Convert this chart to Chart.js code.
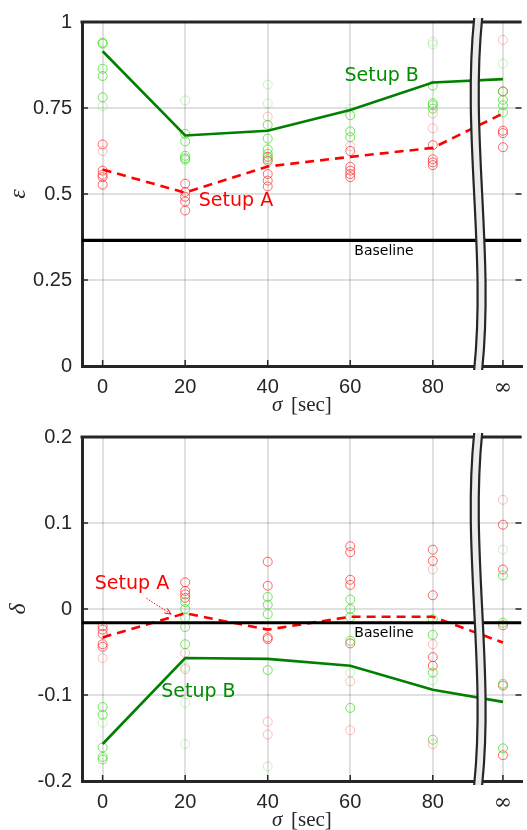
<!DOCTYPE html>
<html>
<head>
<meta charset="utf-8">
<script src="https://cdn.jsdelivr.net/npm/chart.js@4.4.0/dist/chart.umd.min.js"></script>
<style>
  html, body { margin: 0; padding: 0; background: #fff; }
  .panel { position: absolute; left: 0; width: 527px; height: 415px; }
</style>
</head>
<body>
<div class="panel" style="top:0"><canvas id="epsChart" width="527" height="415"></canvas></div>
<div class="panel" style="top:415px"><canvas id="deltaChart" width="527" height="415"></canvas></div>
<script>
// sigma categories (the last one is "infinity", placed after the axis break)
var sigmaPos = [0, 20, 40, 60, 80, 97];
var sigmaLabels = ["0", "20", "40", "60", "80", "∞"];
var breakAt = 91;

// --- epsilon panel ---
var epsSetupA = [0.571, 0.504, 0.580, 0.608, 0.634, 0.734];
var epsSetupB = [0.915, 0.670, 0.684, 0.744, 0.824, 0.834];
var epsBaseline = 0.365;
var epsTicks = [0, 0.25, 0.5, 0.75, 1];
// individual runs, one list per sigma category
var epsGreen = [[0.940, 0.937, 0.864, 0.843, 0.781], [0.675, 0.653, 0.611, 0.604, 0.600], [0.701, 0.661, 0.630, 0.617, 0.601], [0.729, 0.682, 0.665], [0.815, 0.764, 0.758, 0.748], [0.798, 0.774, 0.758, 0.737]];
var epsGreenFaint = [[0.755], [0.772], [0.818, 0.763], [0.748], [0.943, 0.935], [0.879]];
var epsRed = [[0.644, 0.568, 0.556, 0.549, 0.527], [0.530, 0.506, 0.492, 0.478, 0.452], [0.608, 0.596, 0.558, 0.539, 0.522], [0.625, 0.579, 0.568, 0.558, 0.549], [0.642, 0.601, 0.592, 0.584], [0.798, 0.684, 0.677, 0.636]];
var epsRedFaint = [[0.625], [], [0.725], [0.639], [0.734, 0.691], [0.948]];

// --- delta panel ---
var deltaSetupA = [-0.033, -0.005, -0.024, -0.009, -0.009, -0.039];
var deltaSetupB = [-0.157, -0.057, -0.058, -0.066, -0.094, -0.108];
var deltaBaseline = -0.016;
var deltaTicks = [-0.2, -0.1, 0, 0.1, 0.2];
var deltaGreen = [[-0.114, -0.123, -0.161, -0.172, -0.175], [0.008, 0.0, -0.010, -0.021, -0.041], [0.014, 0.005, -0.006, -0.071], [0.011, 0.0, -0.0095, -0.037, -0.115], [-0.012, -0.030, -0.074, -0.152], [0.039, -0.016, -0.087, -0.162]];
var deltaGreenFaint = [[-0.132], [-0.068, -0.109, -0.157], [-0.183], [-0.074], [-0.083], [0.069]];
var deltaRed = [[-0.020, -0.024, -0.029, -0.041, -0.044], [0.031, 0.021, 0.017, 0.013], [0.055, 0.027, -0.033, -0.035], [0.073, 0.066, 0.034, 0.028, -0.040], [0.069, 0.056, 0.016, -0.056, -0.066], [0.098, 0.046, -0.019, -0.089, -0.170]];
var deltaRedFaint = [[-0.057], [-0.051, -0.070], [-0.131, -0.146], [-0.084, -0.141], [0.046, -0.041, -0.157], [0.127]];

var X_MIN = -5, X_MAX = 101.5;
var INK = "#262626";

function toPoints(groups) {
  var pts = [];
  groups.forEach(function (vals, i) {
    vals.forEach(function (v) { pts.push({ x: sigmaPos[i], y: v }); });
  });
  return pts;
}
function toLine(vals) {
  return vals.map(function (v, i) { return { x: sigmaPos[i], y: v }; });
}
function scatterSet(groups, color) {
  return { type: "scatter", data: toPoints(groups), pointStyle: "circle", pointRadius: 4.5,
    borderColor: color, backgroundColor: "rgba(0,0,0,0)", pointBorderWidth: 1, showLine: false };
}

// frame, inward ticks, axis break, x label and text notes
var decor = {
  id: "decor",
  afterDraw: function (chart) {
    var c = chart.ctx, a = chart.chartArea, xs = chart.scales.x, ys = chart.scales.y;
    var o = chart.options.plugins.decor;
    c.save();
    c.strokeStyle = INK;
    c.lineWidth = 3;
    c.beginPath(); c.moveTo(a.left - 1.5, a.top); c.lineTo(a.right, a.top); c.stroke();
    c.lineWidth = 1.5;
    ys.ticks.forEach(function (t) {
      var y = ys.getPixelForValue(t.value);
      c.beginPath(); c.moveTo(a.left, y); c.lineTo(a.left + 6, y); c.stroke();
      c.beginPath(); c.moveTo(a.right - 6, y); c.lineTo(a.right, y); c.stroke();
    });
    xs.ticks.forEach(function (t) {
      var x = xs.getPixelForValue(t.value);
      c.beginPath(); c.moveTo(x, a.bottom); c.lineTo(x, a.bottom - 6); c.stroke();
    });

    // broken-axis marker
    var xb = xs.getPixelForValue(breakAt), top = a.top - 4, bot = a.bottom + 4, h = bot - top, amp = 12;
    function sPath(x0) {
      c.moveTo(x0, top);
      c.bezierCurveTo(x0 - amp, top + h / 3, x0 + amp, top + 2 * h / 3, x0, bot);
    }
    c.beginPath();
    sPath(xb - 4);
    c.lineTo(xb + 4, bot);
    c.bezierCurveTo(xb + 4 + amp, top + 2 * h / 3, xb + 4 - amp, top + h / 3, xb + 4, top);
    c.closePath();
    c.fillStyle = "#ececec"; c.fill();
    c.lineWidth = 2.2; c.strokeStyle = INK;
    c.beginPath(); sPath(xb - 4); c.stroke();
    c.beginPath(); sPath(xb + 4); c.stroke();

    // x axis label: sigma [sec]
    c.fillStyle = INK;
    c.textBaseline = "middle";
    c.textAlign = "left";
    var ly = a.bottom + 39;
    c.font = "italic 21px 'Liberation Serif'";
    c.fillText("σ", 272, ly);
    c.font = "21px 'Liberation Serif'";
    c.fillText("[sec]", 291, ly);

    // notes
    o.notes.forEach(function (n) {
      c.font = n.size + "px 'DejaVu Sans'";
      c.fillStyle = n.color;
      c.fillText(n.text, xs.getPixelForValue(n.x), ys.getPixelForValue(n.y));
    });
    if (o.arrow) {
      var p0x = xs.getPixelForValue(o.arrow[0]), p0y = ys.getPixelForValue(o.arrow[1]);
      var p1x = xs.getPixelForValue(o.arrow[2]), p1y = ys.getPixelForValue(o.arrow[3]);
      c.strokeStyle = "#ff0000"; c.lineWidth = 1;
      c.setLineDash([1.5, 1.5]);
      c.beginPath(); c.moveTo(p0x, p0y); c.lineTo(p1x, p1y); c.stroke();
      c.setLineDash([]);
      var ang = Math.atan2(p1y - p0y, p1x - p0x);
      c.beginPath();
      c.moveTo(p1x - 7 * Math.cos(ang - 0.4), p1y - 7 * Math.sin(ang - 0.4));
      c.lineTo(p1x, p1y);
      c.lineTo(p1x - 7 * Math.cos(ang + 0.4), p1y - 7 * Math.sin(ang + 0.4));
      c.stroke();
    }
    c.restore();
  }
};

function makeChart(id, cfg) {
  var datasets = [
    { type: "line", data: [{ x: X_MIN, y: cfg.baseline }, { x: X_MAX, y: cfg.baseline }], borderColor: "#000", borderWidth: 3.2, pointRadius: 0 },
    { type: "line", data: toLine(cfg.setupB), borderColor: "#008000", borderWidth: 2.6, pointRadius: 0 },
    { type: "line", data: toLine(cfg.setupA), borderColor: "#ff0000", borderWidth: 2.6, borderDash: [9, 6], pointRadius: 0 },
    scatterSet(cfg.green, "rgba(60,225,30,0.75)"),
    scatterSet(cfg.red, "rgba(255,40,40,0.7)"),
    scatterSet(cfg.greenFaint, "rgba(60,225,30,0.3)"),
    scatterSet(cfg.redFaint, "rgba(255,40,40,0.3)")
  ];
  return new Chart(document.getElementById(id).getContext("2d"), {
    type: "scatter",
    data: { datasets: datasets },
    plugins: [decor],
    options: {
      responsive: false,
      animation: false,
      layout: { padding: { top: cfg.padTop, right: 1, left: 0, bottom: 0 } },
      plugins: {
        legend: { display: false },
        tooltip: { enabled: false },
        decor: { notes: cfg.notes, arrow: cfg.arrow }
      },
      scales: {
        x: {
          type: "linear", min: X_MIN, max: X_MAX,
          afterBuildTicks: function (s) { s.ticks = sigmaPos.map(function (v) { return { value: v }; }); },
          afterFit: function (s) { s.height = 49; },
          ticks: {
            padding: 9, color: INK,
            font: function (ctx) {
              return ctx.index === 5 ? { family: "'DejaVu Serif'", size: 22 } : { family: "'Liberation Sans'", size: 20 };
            },
            callback: function (v, i) { return sigmaLabels[i]; }
          },
          grid: { color: "rgba(0,0,0,0.12)", lineWidth: 2, drawTicks: false },
          border: { color: INK, width: 3 }
        },
        y: {
          min: cfg.ticks[0], max: cfg.ticks[cfg.ticks.length - 1],
          afterBuildTicks: function (s) { s.ticks = cfg.ticks.map(function (v) { return { value: v }; }); },
          afterFit: function (s) { s.width = 82; },
          ticks: {
            padding: 10, color: INK,
            font: { family: "'Liberation Sans'", size: 20 },
            callback: function (v) { return String(+v.toFixed(2)); }
          },
          title: {
            display: true, text: cfg.yTitle, color: INK,
            font: { family: "'Liberation Serif'", style: "italic", size: 24 },
            padding: { top: 4, bottom: 0 }
          },
          grid: { color: "rgba(0,0,0,0.12)", lineWidth: 2, drawTicks: false },
          border: { color: INK, width: 3 }
        }
      }
    }
  });
}

makeChart("epsChart", {
  padTop: 15, baseline: epsBaseline, setupA: epsSetupA, setupB: epsSetupB, ticks: epsTicks, yTitle: "ε",
  green: epsGreen, greenFaint: epsGreenFaint, red: epsRed, redFaint: epsRedFaint,
  notes: [
    { text: "Setup B", x: 58.6, y: 0.843, color: "#008c00", size: 19 },
    { text: "Setup A", x: 23.3, y: 0.479, color: "#ff0000", size: 19 },
    { text: "Baseline", x: 61, y: 0.333, color: "#000", size: 14 }
  ]
});

makeChart("deltaChart", {
  padTop: 20, baseline: deltaBaseline, setupA: deltaSetupA, setupB: deltaSetupB, ticks: deltaTicks, yTitle: "δ",
  green: deltaGreen, greenFaint: deltaGreenFaint, red: deltaRed, redFaint: deltaRedFaint,
  notes: [
    { text: "Setup A", x: -1.9, y: 0.0287, color: "#ff0000", size: 19 },
    { text: "Setup B", x: 14.2, y: -0.097, color: "#008c00", size: 19 },
    { text: "Baseline", x: 61, y: -0.028, color: "#000", size: 14 }
  ],
  arrow: [10.6, 0.0125, 16.6, -0.006]
});
</script>
</body>
</html>
